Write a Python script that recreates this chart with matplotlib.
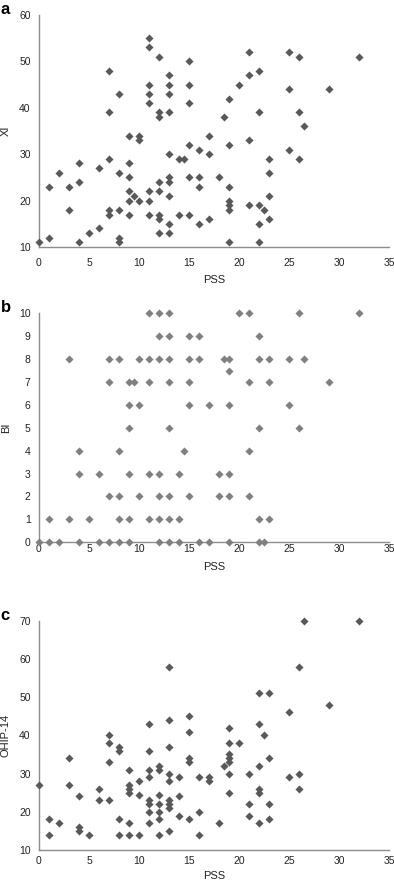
import matplotlib
matplotlib.use("Agg")
import matplotlib.pyplot as plt

# ---------------- data ----------------
a_pss = [0, 1, 1, 2, 3, 3, 4, 4, 4, 5, 6, 6,
         7, 7, 7, 7, 7,
         8, 8, 8, 8, 8,
         9, 9, 9, 9, 9, 9, 9.5,
         10, 10, 10,
         11, 11, 11, 11, 11, 11, 11, 11,
         12, 12, 12, 12, 12, 12, 12, 12,
         13, 13, 13, 13, 13, 13, 13, 13, 13, 13,
         14, 14.5, 14,
         15, 15, 15, 15, 15, 15,
         16, 16, 16, 16,
         17, 17, 17,
         18, 18.5,
         19, 19, 19, 19, 19, 19, 19,
         20,
         21, 21, 21, 21,
         22, 22, 22, 22, 22, 22.5,
         23, 23, 23, 23,
         25, 25, 25,
         26, 26, 26, 26.5,
         29, 32]
a_xi = [11, 12, 23, 26, 23, 18, 28, 24, 11, 13, 14, 27,
        48, 39, 29, 18, 17,
        43, 26, 18, 12, 11,
        34, 28, 25, 22, 20, 17, 21,
        34, 33, 20,
        55, 53, 45, 43, 41, 22, 20, 17,
        51, 39, 38, 24, 22, 17, 16, 13,
        47, 45, 43, 39, 30, 25, 24, 21, 15, 13,
        29, 29, 17,
        50, 45, 41, 32, 25, 17,
        31, 25, 23, 15,
        34, 30, 16,
        25, 38,
        42, 32, 23, 20, 19, 18, 11,
        45,
        52, 47, 33, 19,
        48, 39, 19, 15, 11, 18,
        29, 26, 21, 16,
        52, 44, 31,
        51, 39, 29, 36,
        44, 51]

b_rows = {
    10: [11, 12, 13, 20, 21, 26, 32],
    9: [12, 13, 15, 16, 22],
    8: [3, 7, 8, 10, 11, 12, 13, 15, 16, 18.5, 19, 22, 23, 25, 26.5],
    7.5: [19],
    7: [7, 9, 9.5, 11, 13, 15, 21, 23, 29],
    6: [9, 10, 15, 17, 19, 25],
    5: [9, 13, 22, 26],
    4: [4, 8, 14.5, 21],
    3: [4, 6, 9, 11, 12, 14, 18, 19],
    2: [7, 8, 10, 12, 13, 15, 18, 19, 21],
    1: [1, 3, 5, 8, 9, 11, 12, 13, 14, 22, 23],
    0: [0, 1, 2, 4, 6, 7, 8, 9, 12, 13, 14, 16, 17, 19, 22, 22.5],
}
b_pss = [x for k, xs in b_rows.items() for x in xs]
b_bi = [k for k, xs in b_rows.items() for x in xs]

c_pss = [0, 1, 1, 2, 3, 3, 4, 4, 4, 5,
         6, 6, 7, 7, 7, 7,
         8, 8, 8, 8,
         9, 9, 9, 9, 9, 9,
         10, 10, 10,
         11, 11, 11, 11, 11, 11, 11, 11,
         12, 12, 12, 12, 12, 12, 12,
         13, 13, 13, 13, 13, 13, 13, 13, 13,
         14, 14, 14,
         15, 15, 15, 15, 15,
         16, 16, 16,
         17, 17, 18, 18.5,
         19, 19, 19, 19, 19, 19, 19,
         20,
         21, 21, 21,
         22, 22, 22.5, 22, 22, 22, 22,
         23, 23, 23, 23,
         25, 25, 26, 26, 26, 26.5,
         29, 32]
c_ohip = [27, 18, 14, 17, 34, 27, 24, 16, 15, 14,
          26, 23, 40, 38, 33, 23,
          37, 36, 18, 14,
          31, 27, 26, 25, 17, 14,
          28, 24.5, 14,
          43, 36, 31, 29, 23, 22, 20, 17,
          32, 31, 24.5, 22, 20, 18, 14,
          58, 44, 37, 30, 28, 23, 22, 21, 15,
          29, 24, 19,
          45, 41, 34, 33, 18,
          29, 20, 14,
          29, 28, 17, 32,
          42, 38, 35, 34, 33, 30, 25,
          38,
          30, 22, 19,
          51, 43, 40, 32, 26, 25, 17,
          51, 34, 22, 18,
          46, 29, 58, 30, 26, 70,
          48, 70]

panels = [
    dict(letter="a", x=a_pss, y=a_xi, ylabel="XI", ylim=(10, 60), yticks=range(10, 61, 10),
         color="#595959", rect_px=(15, 247), xpad=8, xlabelpad=5),
    dict(letter="b", x=b_pss, y=b_bi, ylabel="BI", ylim=(0, 10), yticks=range(0, 11, 1),
         color="#808080", rect_px=(313.3, 542.3), xpad=1.5, xlabelpad=5.5),
    dict(letter="c", x=c_pss, y=c_ohip, ylabel="OHIP-14", ylim=(10, 70), yticks=range(10, 71, 10),
         color="#595959", rect_px=(620.7, 850), xpad=4.5, xlabelpad=3.5),
]

W, H = 394, 882
fig = plt.figure(figsize=(W / 100, H / 100), dpi=100)
plt.rcParams['font.family'] = ['Liberation Sans', 'DejaVu Sans']

left_px, right_px = 39, 389
for p in panels:
    top, bot = p["rect_px"]
    ax = fig.add_axes([left_px / W, 1 - bot / H, (right_px - left_px) / W, (bot - top) / H])
    ax.scatter(p["x"], p["y"], marker="D", s=17, color=p["color"], linewidths=0,
               clip_on=False, zorder=3)
    ax.set_xlim(0, 35)
    ax.set_ylim(*p["ylim"])
    ax.set_xticks(range(0, 36, 5))
    ax.set_yticks(list(p["yticks"]))
    for s in ("top", "right"):
        ax.spines[s].set_visible(False)
    for s in ("left", "bottom"):
        ax.spines[s].set_color("#8c8c8c")
        ax.spines[s].set_linewidth(1.0)
    ax.tick_params(length=0, labelsize=7.5, colors="#222222")
    ax.tick_params(axis="x", pad=p["xpad"])
    ax.tick_params(axis="y", pad=6)
    ax.set_xlabel("PSS", fontsize=8, color="#222222", labelpad=p["xlabelpad"])
    ax.set_ylabel(p["ylabel"], fontsize=8, color="#222222", labelpad=6)
    fig.text(0.5 / W, 1 - (top - 13) / H, p["letter"], fontsize=12, fontweight="bold",
             va="top", ha="left")

fig.savefig("out.png", dpi=100)
